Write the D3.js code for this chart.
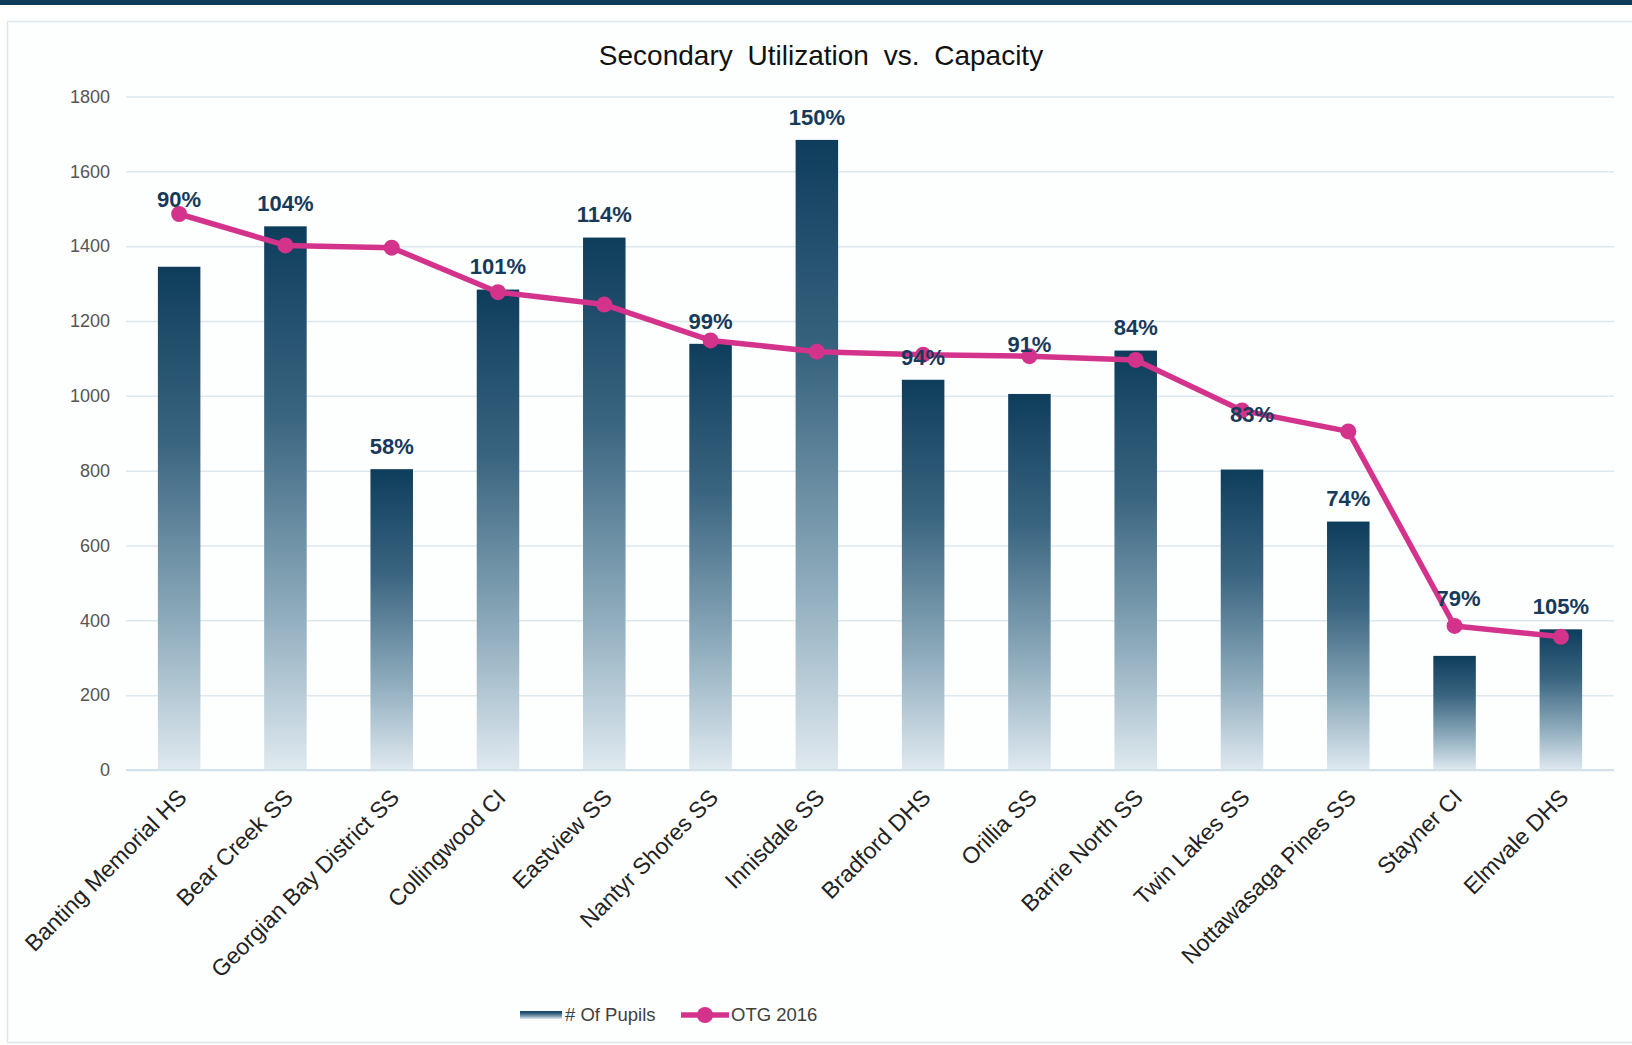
<!DOCTYPE html>
<html>
<head>
<meta charset="utf-8">
<script src="https://cdn.jsdelivr.net/npm/d3@7"></script>
<style>
  html, body { margin: 0; padding: 0; background: #ffffff; }
  svg { display: block; font-family: "Liberation Sans", Arial, sans-serif; }
</style>
</head>
<body>
<svg id="chart"></svg>
<script>
// chart values
const schools = ['Banting Memorial HS', 'Bear Creek SS', 'Georgian Bay District SS', 'Collingwood CI',
  'Eastview SS', 'Nantyr Shores SS', 'Innisdale SS', 'Bradford DHS', 'Orillia SS', 'Barrie North SS',
  'Twin Lakes SS', 'Nottawasaga Pines SS', 'Stayner CI', 'Elmvale DHS']
const pupils = [1345, 1453, 804, 1284, 1423, 1139, 1684, 1043, 1005, 1121, 803, 664, 305, 376]
const otg2016 = [1486, 1402, 1396, 1277, 1244, 1148, 1118, 1110, 1106, 1096, 961, 905, 385, 356]
const utilization = ['90%', '104%', '58%', '101%', '114%', '99%', '150%', '94%', '91%', '84%', '83%', '74%', '79%', '105%']
const yTicks = [0, 200, 400, 600, 800, 1000, 1200, 1400, 1600, 1800]

const width = 1632
const height = 1045
const plot = {left: 126, right: 1614, top: 96.5, bottom: 770}

// a few labels were dragged onto the line in the original: [dx, dy from the line point]
const labelOnLine = {0: [0, -15], 8: [0, -12], 10: [10, 4], 12: [4, -28]}

const svg = d3.select('#chart')
  .attr('width', width)
  .attr('height', height)

// gradient used for the bars (per bar, dark top -> pale bottom)
const defs = svg.append('defs')
const grad = defs.append('linearGradient')
  .attr('id', 'barGrad')
  .attr('x1', 0).attr('y1', 0).attr('x2', 0).attr('y2', 1)
grad.selectAll('stop')
  .data([['0%', '#0e3d5c'], ['35%', '#3a6580'], ['70%', '#8caabb'], ['100%', '#dfe9f0']])
  .join('stop')
    .attr('offset', d => d[0])
    .attr('stop-color', d => d[1])

// frame
svg.append('rect')
  .attr('x', 0).attr('y', 0)
  .attr('width', width).attr('height', 5)
  .attr('fill', '#0e3d5c')

svg.append('rect')
  .attr('x', 7.5).attr('y', 21.5)
  .attr('width', width).attr('height', 1021)
  .attr('fill', '#fdfefe')
  .attr('stroke', '#dbe7ee')
  .attr('stroke-width', 1.5)

// title
svg.append('text')
  .attr('x', 821)
  .attr('y', 65)
  .attr('text-anchor', 'middle')
  .style('font-size', '28px')
  .style('word-spacing', '7px')
  .attr('fill', '#111111')
  .text('Secondary Utilization vs. Capacity')

// scales
const x = d3.scaleBand()
  .domain(schools)
  .range([plot.left, plot.right])
  .paddingInner(0.6)
  .paddingOuter(0.3)

const y = d3.scaleLinear()
  .domain([0, 1800])
  .range([plot.bottom, plot.top])

// y axis with gridlines
const yAxis = svg.append('g')
  .attr('transform', 'translate(' + plot.left + ',0)')
  .call(d3.axisLeft(y)
    .tickValues(yTicks)
    .tickFormat(d3.format('d'))
    .tickSizeInner(-(plot.right - plot.left))
    .tickSizeOuter(0)
    .tickPadding(16))
yAxis.select('.domain').remove()
yAxis.selectAll('.tick line')
  .attr('stroke', '#dde8ee')
  .attr('stroke-width', 1.5)
yAxis.selectAll('.tick text')
  .attr('fill', '#555555')
  .style('font-size', '18px')
  .style('font-family', '"Liberation Sans", Arial, sans-serif')

// bars
svg.append('g')
  .selectAll('rect')
  .data(pupils)
  .join('rect')
    .attr('x', (d, i) => x(schools[i]))
    .attr('y', d => y(d))
    .attr('width', x.bandwidth())
    .attr('height', d => y(0) - y(d))
    .attr('fill', 'url(#barGrad)')

// x baseline
svg.append('line')
  .attr('x1', plot.left).attr('x2', plot.right)
  .attr('y1', y(0)).attr('y2', y(0))
  .attr('stroke', '#d3e1e9')
  .attr('stroke-width', 2)

// x axis labels
const xAxis = svg.append('g')
  .attr('transform', 'translate(0,' + y(0) + ')')
  .call(d3.axisBottom(x).tickSize(0).tickPadding(0))
xAxis.select('.domain').remove()
xAxis.selectAll('.tick text')
  .attr('text-anchor', 'end')
  .attr('fill', '#222222')
  .style('font-size', '23px')
  .style('font-family', '"Liberation Sans", Arial, sans-serif')
  .attr('x', 0).attr('y', 0).attr('dy', 0)
  .attr('transform', 'translate(9,29) rotate(-45)')

// OTG line
const xc = i => x(schools[i]) + x.bandwidth() / 2
const line = d3.line()
  .x((d, i) => xc(i))
  .y(d => y(d))

svg.append('path')
  .datum(otg2016)
  .attr('d', line)
  .attr('fill', 'none')
  .attr('stroke', '#d4338c')
  .attr('stroke-width', 5.5)
  .attr('stroke-linejoin', 'round')

svg.append('g')
  .selectAll('circle')
  .data(otg2016)
  .join('circle')
    .attr('cx', (d, i) => xc(i))
    .attr('cy', d => y(d))
    .attr('r', 8)
    .attr('fill', '#d4338c')

// utilization labels
svg.append('g')
  .selectAll('text')
  .data(utilization)
  .join('text')
    .attr('x', (d, i) => xc(i) + (labelOnLine[i] ? labelOnLine[i][0] : 0))
    .attr('y', (d, i) => labelOnLine[i] ? y(otg2016[i]) + labelOnLine[i][1] : y(pupils[i]) - 23)
    .attr('dy', '0.36em')
    .attr('text-anchor', 'middle')
    .attr('fill', '#173a5a')
    .style('font-size', '22px')
    .style('font-weight', 'bold')
    .text(d => d)

// legend
const legend = svg.append('g').attr('transform', 'translate(0,1015)')
legend.append('rect')
  .attr('x', 520).attr('y', -4)
  .attr('width', 42).attr('height', 8)
  .attr('fill', 'url(#barGrad)')
legend.append('text')
  .attr('x', 565).attr('y', 0).attr('dy', '0.35em')
  .attr('fill', '#404040')
  .style('font-size', '18.5px')
  .text('# Of Pupils')
legend.append('line')
  .attr('x1', 681).attr('x2', 729)
  .attr('y1', 0).attr('y2', 0)
  .attr('stroke', '#d4338c')
  .attr('stroke-width', 5.5)
legend.append('circle')
  .attr('cx', 705).attr('cy', 0).attr('r', 8)
  .attr('fill', '#d4338c')
legend.append('text')
  .attr('x', 731).attr('y', 0).attr('dy', '0.35em')
  .attr('fill', '#404040')
  .style('font-size', '18.5px')
  .text('OTG 2016')
</script>
</body>
</html>
